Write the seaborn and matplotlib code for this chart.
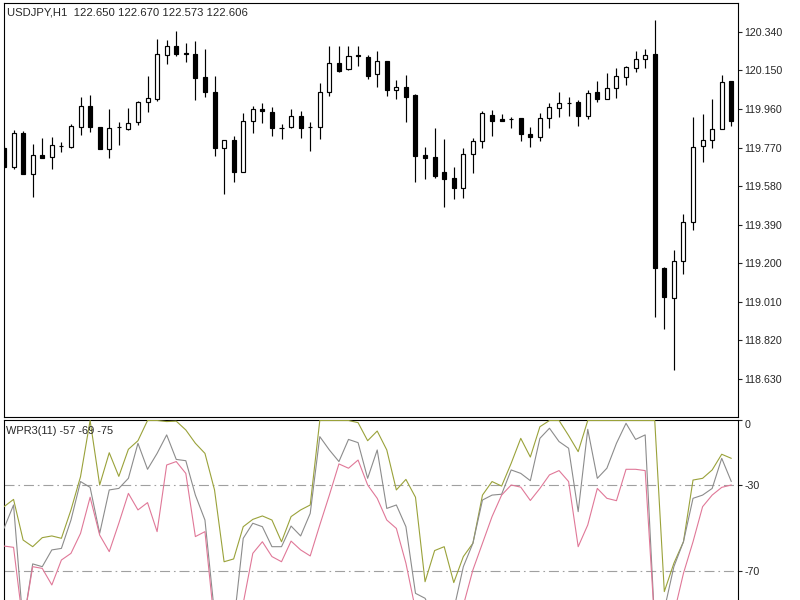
import numpy as np
import pandas as pd
import matplotlib
matplotlib.use("Agg")
import matplotlib.pyplot as plt
import seaborn as sns

sns.set_style("white")
plt.rcParams["font.family"] = ["Liberation Sans", "DejaVu Sans"]
plt.rcParams["axes.linewidth"] = 0.8

# 蜡烛数据 USDJPY H1
opens = [119.768, 119.675, 119.842, 119.640, 119.734, 119.724, 119.778, 119.773, 119.872, 119.975,
         119.872, 119.763, 119.870, 119.862, 119.896, 119.995, 120.010, 120.227, 120.271, 120.234,
         120.232, 120.118, 120.044, 119.768, 119.808, 119.650, 119.901, 119.961, 119.946, 119.869,
         119.872, 119.926, 119.874, 119.872, 120.044, 120.187, 120.158, 120.224, 120.217, 120.133,
         120.197, 120.054, 120.069, 120.030, 119.734, 119.724, 119.650, 119.620, 119.571, 119.739,
         119.803, 119.931, 119.911, 119.913, 119.916, 119.837, 119.823, 119.916, 119.965, 119.992,
         119.995, 119.926, 120.044, 120.010, 120.064, 120.118, 120.163, 120.207, 120.232, 119.177,
         119.029, 119.211, 119.404, 119.778, 119.808, 119.862, 120.098]
highs = [119.778, 119.857, 119.852, 119.788, 119.818, 119.823, 119.798, 119.887, 120.020, 120.030,
         119.874, 119.961, 119.896, 119.965, 120.000, 120.123, 120.305, 120.301, 120.345, 120.286,
         120.296, 120.256, 120.123, 119.810, 119.827, 119.941, 119.975, 119.990, 119.970, 119.887,
         119.961, 119.951, 119.896, 120.089, 120.271, 120.271, 120.271, 120.271, 120.227, 120.246,
         120.199, 120.103, 120.128, 120.032, 119.773, 119.867, 119.813, 119.675, 119.768, 119.818,
         119.951, 119.956, 119.936, 119.921, 119.918, 119.872, 119.941, 119.990, 120.044, 120.020,
         120.005, 120.054, 120.098, 120.138, 120.163, 120.172, 120.246, 120.256, 120.399, 119.180,
         119.266, 119.443, 119.921, 119.936, 120.010, 120.128, 120.100]
lows = [119.670, 119.665, 119.640, 119.527, 119.719, 119.665, 119.749, 119.768, 119.832, 119.847,
        119.763, 119.719, 119.783, 119.857, 119.882, 119.946, 120.000, 120.182, 120.222, 120.192,
        120.005, 120.020, 119.729, 119.542, 119.601, 119.648, 119.842, 119.891, 119.827, 119.813,
        119.867, 119.818, 119.753, 119.813, 120.025, 120.143, 120.153, 120.172, 120.108, 120.069,
        120.025, 120.010, 119.896, 119.601, 119.616, 119.620, 119.478, 119.517, 119.522, 119.645,
        119.768, 119.827, 119.901, 119.867, 119.803, 119.773, 119.803, 119.867, 119.921, 119.926,
        119.877, 119.911, 119.995, 120.008, 120.015, 120.079, 120.143, 120.163, 118.936, 118.876,
        118.674, 119.147, 119.364, 119.699, 119.768, 119.860, 119.877]
closes = [119.675, 119.842, 119.640, 119.734, 119.719, 119.783, 119.780, 119.877, 119.975, 119.872,
          119.763, 119.867, 119.872, 119.891, 119.995, 120.015, 120.232, 120.271, 120.232, 120.232,
          120.113, 120.044, 119.768, 119.808, 119.650, 119.901, 119.961, 119.951, 119.867, 119.867,
          119.926, 119.867, 119.872, 120.044, 120.187, 120.148, 120.222, 120.222, 120.123, 120.197,
          120.054, 120.069, 120.020, 119.729, 119.719, 119.630, 119.616, 119.571, 119.739, 119.803,
          119.941, 119.901, 119.903, 119.911, 119.837, 119.823, 119.916, 119.970, 119.990, 119.990,
          119.926, 120.039, 120.010, 120.064, 120.123, 120.168, 120.207, 120.227, 119.177, 119.034,
          119.211, 119.404, 119.773, 119.808, 119.862, 120.094, 119.901]

# WPR 三条线
wpr_olive = [-40.1, -36.7, -55.6, -58.7, -54.5, -53.7, -54.8, -41.6, -26.1, 0,
             -30, -15, -26, -13.4, -9.4, 0, 0, -0.5, -0.3, -4.4,
             -10.6, -15.3, -32.3, -65.7, -64.4, -49.4, -46, -44.4, -46.3, -56.4,
             -44.7, -41.6, -39.3, 0, 0, 0, 0, -1, -9.4, -4.9,
             -13.7, -32.3, -27.4, -35.7, -75, -60.5, -58.7, -75.4, -63.3, -57.1,
             -34.7, -28.4, -30.5, -19.9, -8.3, -17, -2.9, 0, 0, -7,
             -14.5, 0, 0, 0, 0, 0, 0, 0, 0, -79.6,
             -66.4, -56.4, -27.7, -26.9, -23, -15.7, -17.6]
wpr_grey = [-50.2, -39.3, -95, -66.7, -68, -60.2, -59.5, -46.3, -28.4, -31.1,
            -52.5, -32.3, -31.6, -26.9, -10.6, -22.7, -15.3, -6.7, -18.1, -18.7,
            -34.7, -46.3, -90, -92, -95, -54.8, -47.8, -49.4, -58.7, -58.7,
            -49.1, -53.7, -43.2, -7.5, -13.7, -19.1, -8.8, -10.3, -26.9, -13.7,
            -40.9, -39.3, -49.4, -80.4, -82.7, -92, -92, -88, -68, -57.1,
            -37, -34.7, -34.3, -23, -24.6, -28, -8.3, -3.6, -9.8, -12.9,
            -42.4, -4.1, -26.9, -22.2, -10.6, -1.3, -8.8, -6.7, -95, -88,
            -68, -56.4, -36.2, -34.7, -31.6, -17.6, -28.4]
wpr_pink = [-58.4, -59, -95, -68, -68.8, -76.5, -64.9, -61.8, -52.5, -35.7,
            -53.3, -61, -47.8, -33.9, -41.6, -38.2, -51.7, -20.7, -19.1, -24.6,
            -54, -51.7, -95, -98, -95, -85, -61.8, -56.4, -63.3, -65.7,
            -56.1, -60.2, -63, -48.6, -34.7, -20.2, -22.2, -18.4, -30, -36.2,
            -46.3, -50.2, -66.4, -88, -95, -98, -98, -96, -86, -69.5,
            -57.1, -44.7, -34.7, -30, -31, -37.2, -31.6, -25.3, -23.3, -28.4,
            -58.7, -48.6, -31.6, -36.2, -37.3, -22.7, -22.7, -23.3, -95, -98,
            -90, -71.1, -56.4, -40.1, -34.7, -31.1, -30]

price_ticks = [120.340, 120.150, 119.960, 119.770, 119.580, 119.390, 119.200, 119.010, 118.820, 118.630]
wpr_ticks = [0, -30, -70]
wpr_levels = [-30, -70]

df = pd.DataFrame({"open": opens, "high": highs, "low": lows, "close": closes})
df["bar"] = np.arange(len(df))
bull = df["close"] >= df["open"]

fig = plt.figure(figsize=(8, 6), dpi=100)
ax = fig.add_axes([0.004375, 0.305, 0.918125, 0.68917])
ax2 = fig.add_axes([0.004375, 0.0, 0.918125, 0.29917])

# 影线
ax.vlines(df["bar"], df["low"], df["high"], color="black", linewidth=0.85, zorder=1)
# 实体
body_low = df[["open", "close"]].min(axis=1)
body_h = (df["close"] - df["open"]).abs().clip(lower=0.0004)
ax.bar(df["bar"], body_h, bottom=body_low, width=0.42,
       color=np.where(bull, "white", "black"), edgecolor="black", linewidth=0.85, zorder=2)

ax.set_xlim(-0.05, 76.7)
ax.set_ylim(118.443, 120.480)
ax.set_xticks([])
ax.yaxis.tick_right()
ax.set_yticks(price_ticks)
ax.set_yticklabels([f"{t:.3f}" for t in price_ticks])
ax.tick_params(axis="y", direction="out", length=3, width=0.8, pad=1.5, labelsize=7.7,
               right=True, left=False)
for s in ax.spines.values():
    s.set_color("black")
ax.text(0.005, 0.978, "USDJPY,H1  122.650 122.670 122.573 122.606", transform=ax.transAxes,
        fontsize=8.1, ha="left", va="center")

# WPR 指标窗口
for lv in wpr_levels:
    ax2.axhline(lv, color="#a0a0a0", linewidth=0.8, linestyle=(0, (9, 3.5, 1.5, 3.5)), zorder=1)
sns.lineplot(x=df["bar"], y=wpr_olive, ax=ax2, color="#9aa23a", linewidth=0.8, zorder=3)
sns.lineplot(x=df["bar"], y=wpr_grey, ax=ax2, color="#8c8c8c", linewidth=0.8, zorder=3)
sns.lineplot(x=df["bar"], y=wpr_pink, ax=ax2, color="#e07898", linewidth=0.8, zorder=3)

ax2.set_xlim(-0.05, 76.7)
ax2.set_ylim(-83.5, 0)
ax2.set_xticks([])
ax2.set_xlabel("")
ax2.set_ylabel("")
ax2.yaxis.tick_right()
ax2.set_yticks(wpr_ticks)
ax2.set_yticklabels([str(t) for t in wpr_ticks])
ax2.tick_params(axis="y", direction="out", length=3, width=0.8, pad=1.5, labelsize=7.7,
                right=True, left=False)
ax2.get_yticklabels()[0].set_va("top")
ax2.spines["bottom"].set_visible(False)
for s in ax2.spines.values():
    s.set_color("black")
ax2.text(0.004, 0.94, "WPR3(11) -57 -69 -75", transform=ax2.transAxes,
         fontsize=7.9, ha="left", va="center")

fig.savefig("out.png", dpi=100)
